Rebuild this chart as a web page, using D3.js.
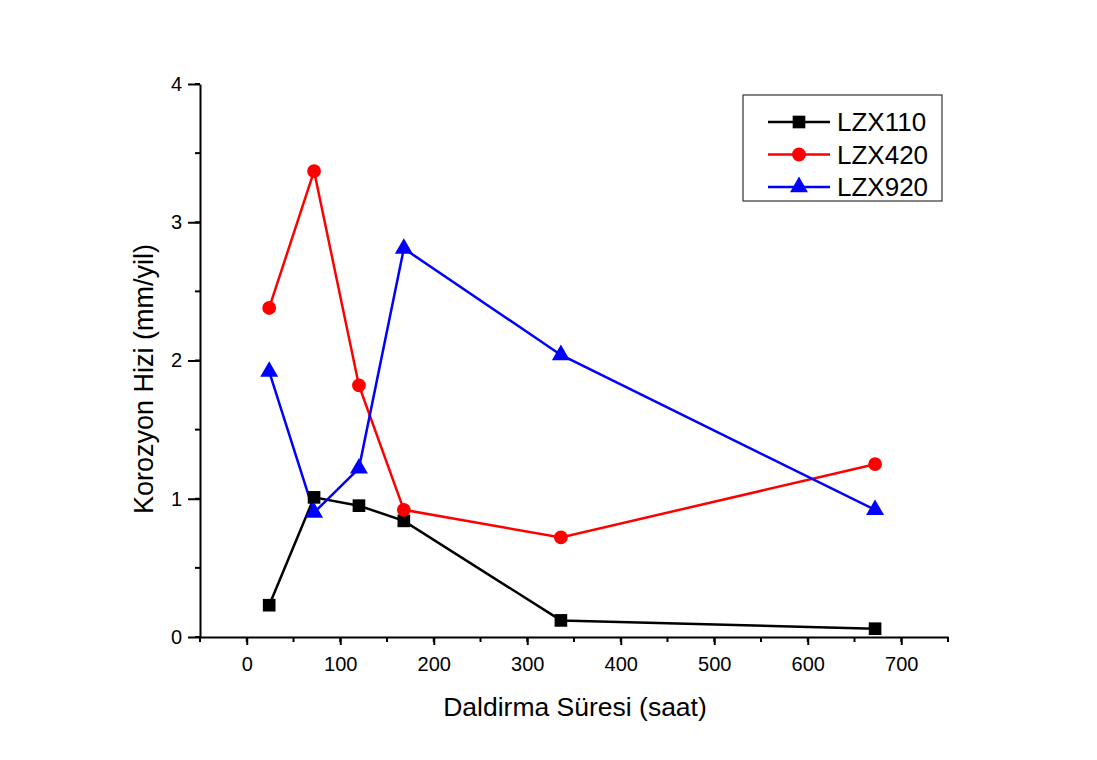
<!DOCTYPE html>
<html>
<head>
<meta charset="utf-8">
<script src="https://cdn.jsdelivr.net/npm/d3@7"></script>
<style>
  body { margin: 0; background: #fff; }
  svg { font-family: "Liberation Sans", Arial, sans-serif; }
</style>
</head>
<body>
<div class="graph"></div>
<script>
var hours = [24, 72, 120, 168, 336, 672]
var lzx110 = [0.23, 1.01, 0.95, 0.84, 0.12, 0.06]
var lzx420 = [2.38, 3.37, 1.82, 0.92, 0.72, 1.25]
var lzx920 = [1.92, 0.90, 1.22, 2.81, 2.04, 0.92]
var seriesNames = ["LZX110", "LZX420", "LZX920"]
var xTicks = [0, 100, 200, 300, 400, 500, 600, 700]
var yTicks = [0, 1, 2, 3, 4]

var w = 1097, h = 760
var pLeft = 200, pRight = 948, pTop = 84, pBottom = 637

var svg = d3.select(".graph").append("svg")
  .attr("width", w)
  .attr("height", h)

var x = d3.scaleLinear().domain([-50, 750]).range([pLeft, pRight])
var y = d3.scaleLinear().domain([0, 4]).range([pBottom, pTop])

// minor ticks
var xMinor = d3.range(-50, 751, 50)
var yMinor = d3.range(0, 4.01, 0.5)

svg.selectAll(".xminor").data(xMinor).enter().append("line")
  .attr("x1", d => x(d)).attr("x2", d => x(d))
  .attr("y1", pBottom).attr("y2", pBottom + 5)
  .attr("stroke", "#000").attr("stroke-width", 2)

svg.selectAll(".yminor").data(yMinor).enter().append("line")
  .attr("x1", pLeft).attr("x2", pLeft - 5)
  .attr("y1", d => y(d)).attr("y2", d => y(d))
  .attr("stroke", "#000").attr("stroke-width", 2)

var xAxis = svg.append("g")
  .attr("transform", "translate(0," + pBottom + ")")
  .call(d3.axisBottom(x).tickValues(xTicks).tickSize(8).tickPadding(12).tickSizeOuter(0))
xAxis.attr("font-size", 20).attr("font-family", null)
xAxis.select(".domain").attr("stroke-width", 2)
xAxis.selectAll(".tick line").attr("stroke-width", 2)
xAxis.selectAll("text").attr("fill", "#000")

var yAxis = svg.append("g")
  .attr("transform", "translate(" + pLeft + ",0)")
  .call(d3.axisLeft(y).tickValues(yTicks).tickFormat(d3.format("d")).tickSize(12).tickPadding(6).tickSizeOuter(0))
yAxis.attr("font-size", 20).attr("font-family", null)
yAxis.select(".domain").attr("stroke-width", 2)
yAxis.selectAll(".tick line").attr("stroke-width", 2)
yAxis.selectAll("text").attr("fill", "#000")

svg.append("text")
  .attr("x", 575).attr("y", 716)
  .attr("text-anchor", "middle")
  .style("font-size", "26.5px")
  .text("Daldirma Süresi (saat)")

svg.append("text")
  .attr("transform", "translate(153,379) rotate(-90)")
  .attr("text-anchor", "middle")
  .style("font-size", "27px")
  .text("Korozyon Hizi (mm/yil)")

var series = [
  { name: seriesNames[0], values: lzx110, color: "#000000", symbol: d3.symbolSquare, size: 160 },
  { name: seriesNames[1], values: lzx420, color: "#ff0000", symbol: d3.symbolCircle, size: 150 },
  { name: seriesNames[2], values: lzx920, color: "#0000ff", symbol: d3.symbolTriangle, size: 140 }
]

var line = d3.line()
  .x(d => x(d[0]))
  .y(d => y(d[1]))

series.forEach(function(s){
  var pts = hours.map((hr, i) => [hr, s.values[i]])
  svg.append("path")
    .datum(pts)
    .attr("fill", "none")
    .attr("stroke", s.color)
    .attr("stroke-width", 2.5)
    .attr("d", line)
})

series.forEach(function(s){
  var pts = hours.map((hr, i) => [hr, s.values[i]])
  svg.selectAll(null).data(pts).enter().append("path")
    .attr("d", d3.symbol().type(s.symbol).size(s.size))
    .attr("transform", d => "translate(" + x(d[0]) + "," + y(d[1]) + ")")
    .attr("fill", s.color)
})

// legend
var lg = svg.append("g")
lg.append("rect")
  .attr("x", 743).attr("y", 95).attr("width", 199).attr("height", 106)
  .attr("fill", "#fff").attr("stroke", "#333").attr("stroke-width", 1.2)

series.forEach(function(s, i){
  var ly = 122 + i * 32.5
  lg.append("line")
    .attr("x1", 768).attr("x2", 830).attr("y1", ly).attr("y2", ly)
    .attr("stroke", s.color).attr("stroke-width", 2.5)
  lg.append("path")
    .attr("d", d3.symbol().type(s.symbol).size(s.size))
    .attr("transform", "translate(799," + ly + ")")
    .attr("fill", s.color)
  lg.append("text")
    .attr("x", 837).attr("y", ly + 9)
    .style("font-size", "26px")
    .text(s.name)
})
</script>
</body>
</html>
